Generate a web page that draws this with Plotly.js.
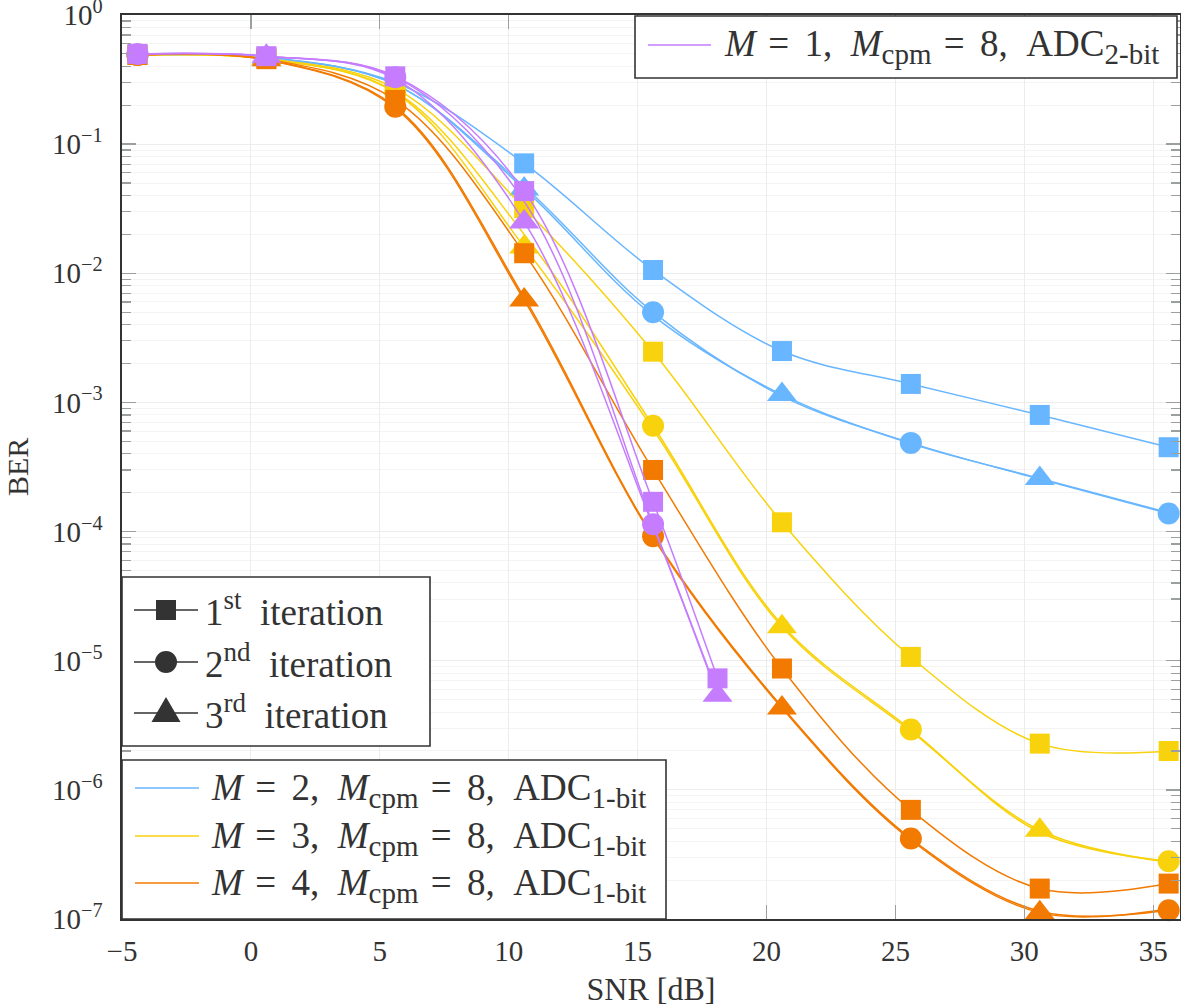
<!DOCTYPE html>
<html><head><meta charset="utf-8">
<script src="https://cdn.plot.ly/plotly-3.0.1.min.js"></script>
<style>body{margin:0;background:#fff}#chart{width:1181px;height:1007px}</style>
</head><body><div id="chart"></div>
<script>
// SNR grid (dB)
const snr = [-4.4, 0.6, 5.6, 10.6, 15.6, 20.6, 25.6, 30.6, 35.6];
const snrM1 = [-4.4, 0.6, 5.6, 10.6, 15.6, 18.1];

// M = 2, ADC 1-bit (blue)
const berM2It1 = [0.49, 0.47, 0.30, 0.071, 0.0106, 0.0025, 0.00139, 0.00080, 0.00045];
const berM2It2 = [0.49, 0.465, 0.29, 0.047, 0.0050, 0.00112, 0.000486, 0.000255, 0.000138];
const berM2It3 = [0.49, 0.465, 0.29, 0.045, 0.0047, 0.00115, 0.000480, 0.000258, 0.000140];
// M = 3, ADC 1-bit (yellow)
const berM3It1 = [0.49, 0.46, 0.27, 0.032, 0.00247, 0.000118, 1.07e-5, 2.28e-6, 2.0e-6];
const berM3It2 = [0.49, 0.455, 0.255, 0.020, 0.00066, 1.9e-5, 2.93e-6, 4.7e-7, 2.8e-7];
const berM3It3 = [0.49, 0.455, 0.25, 0.016, 0.00062, 1.83e-5, 2.85e-6, 4.87e-7, 2.75e-7];
// M = 4, ADC 1-bit (orange)
const berM4It1 = [0.49, 0.455, 0.22, 0.0143, 0.00030, 8.7e-6, 7.0e-7, 1.72e-7, 1.88e-7];
const berM4It2 = [0.49, 0.45, 0.195, 0.0065, 9.2e-5, 4.4e-6, 4.2e-7, 1.15e-7, 1.17e-7];
const berM4It3 = [0.49, 0.45, 0.19, 0.0062, 9.0e-5, 4.3e-6, 4.1e-7, 1.12e-7, 1.2e-7];
// M = 1, ADC 2-bit (purple)
const berM1It1 = [0.5, 0.48, 0.335, 0.0433, 0.00017, 7.3e-6];
const berM1It2 = [0.5, 0.48, 0.33, 0.036, 0.000114, 5.6e-6];
const berM1It3 = [0.5, 0.48, 0.32, 0.025, 0.000110, 5.4e-6];

const xTickVals = [-5, 0, 5, 10, 15, 20, 25, 30, 35];
const xTickText = ['\u22125', '0', '5', '10', '15', '20', '25', '30', '35'];
const yTickVals = [1e-7, 1e-6, 1e-5, 1e-4, 1e-3, 1e-2, 1e-1, 1];
const yTickText = ['10<sup>\u22127</sup>','10<sup>\u22126</sup>','10<sup>\u22125</sup>','10<sup>\u22124</sup>','10<sup>\u22123</sup>','10<sup>\u22122</sup>','10<sup>\u22121</sup>','10<sup>0</sup>'];

const iterNames = ['1st iteration', '2nd iteration', '3rd iteration'];
const EN = '\u2002', THL = '\u2004', THR = '\u2004\u200A';
function cfgLabel(m, bits) {
  return '<i>M</i>' + THL + '=' + THR + m + ',' + EN + '<i>M</i><sub><span style="font-size:29px">cpm</span></sub>' +
    THL + '=' + THR + '8,' + EN + 'ADC<sub><span style="font-size:29px">' + bits + '-bit</span></sub>';
}
const configLabels = [cfgLabel(2, 1), cfgLabel(3, 1), cfgLabel(4, 1), cfgLabel(1, 2)];

const BLUE = '#68b6ff', YELLOW = '#f8d20c', ORANGE = '#f27a00', PURPLE = '#c57cff';
const SYMBOLS = ['square', 'circle', 'triangle-up'];
const MSIZE = [20, 22, 26];

const groups = [
  {x: snr, ys: [berM2It1, berM2It2, berM2It3], color: BLUE},
  {x: snr, ys: [berM3It1, berM3It2, berM3It3], color: YELLOW},
  {x: snr, ys: [berM4It1, berM4It2, berM4It3], color: ORANGE},
  {x: snrM1, ys: [berM1It1, berM1It2, berM1It3], color: PURPLE}
];

const traces = [];
groups.forEach(g => {
  g.ys.forEach((y, it) => {
    // square on every point, circle on even points, triangle on odd points
    const sizes = g.x.map((_, i) => it === 0 ? MSIZE[0] : (it === 1 ? (i % 2 === 0 ? MSIZE[1] : 0) : (i % 2 === 1 ? MSIZE[2] : 0)));
    traces.push({
      type: 'scatter', mode: 'lines+markers', x: g.x, y: y,
      name: iterNames[it], showlegend: false, cliponaxis: false,
      line: {color: g.color, width: 1.5, shape: 'spline', smoothing: 1},
      marker: {symbol: SYMBOLS[it], size: sizes, color: g.color, opacity: 1, line: {width: 0}}
    });
  });
});

// plot area in pixels
const L = 122, R = 1180, T = 15, B = 919;
const px = v => (v - L) / (R - L);
const py = v => (B - v) / (B - T);
const DARK = '#333333';
const FONT = 'Liberation Serif, serif';
const shapes = [], annotations = [];
function box(x0, y0, x1, y1) {
  shapes.push({type: 'rect', xref: 'paper', yref: 'paper', x0: px(x0), x1: px(x1), y0: py(y1), y1: py(y0),
    line: {color: DARK, width: 1.6}, fillcolor: 'white', layer: 'above'});
}
function seg(x0, x1, y, color, w) {
  shapes.push({type: 'line', xref: 'paper', yref: 'paper', x0: px(x0), x1: px(x1), y0: py(y), y1: py(y),
    line: {color: color, width: w}, layer: 'above'});
}
function label(x, y, text, size) {
  annotations.push({xref: 'paper', yref: 'paper', x: px(x), y: py(y), xanchor: 'left', yanchor: 'middle',
    text: text, showarrow: false, font: {family: FONT, size: size, color: DARK}});
}

// top-right legend (M = 1)
box(635, 16, 1177, 78);
seg(648, 711, 45, PURPLE, 1.5);
label(722, 46, configLabels[3], 37);

// iteration legend
box(122, 577, 430, 746);
const iterY = [610, 662, 713];
const sup = s => '<sup><span style="font-size:27px">' + s + '</span></sup>';
const iterText = ['1' + sup('st') + EN + 'iteration', '2' + sup('nd') + EN + 'iteration', '3' + sup('rd') + EN + 'iteration'];
iterY.forEach((y, k) => {
  seg(134, 198, y, DARK, 1.4);
  label(203, y - 1, iterText[k], 37);
});
shapes.push({type: 'rect', xref: 'paper', yref: 'paper', x0: px(156), x1: px(176), y0: py(620), y1: py(600),
  line: {width: 0}, fillcolor: DARK, layer: 'above'});
shapes.push({type: 'circle', xref: 'paper', yref: 'paper', x0: px(155), x1: px(177), y0: py(673), y1: py(651),
  line: {width: 0}, fillcolor: DARK, layer: 'above'});
shapes.push({type: 'path', xref: 'paper', yref: 'paper',
  path: `M ${px(151.5)} ${py(722)} L ${px(180.5)} ${py(722)} L ${px(166)} ${py(697)} Z`,
  line: {width: 0}, fillcolor: DARK, layer: 'above'});

// configuration legend
box(122, 760, 666, 919);
const cfgY = [788, 836, 883];
[BLUE, YELLOW, ORANGE].forEach((c, k) => {
  seg(135, 199, cfgY[k], c, 1.5);
  label(209, cfgY[k] + 2, configLabels[k], 37);
});

// y-axis title placed at the reference's far-left position
annotations.push({xref: 'paper', yref: 'paper', x: px(17), y: py(467), xanchor: 'center', yanchor: 'middle',
  text: 'BER', textangle: -90, showarrow: false, font: {family: FONT, size: 30, color: DARK}});

const minorVals = [];
for (let e = -7; e < 0; e++) for (let m = 2; m <= 9; m++) minorVals.push(m * Math.pow(10, e));

const layout = {
  width: 1181, height: 1007,
  margin: {l: L, r: 1181 - R, t: T, b: 1007 - B},
  paper_bgcolor: 'white', plot_bgcolor: 'white',
  font: {family: FONT, color: DARK, size: 28},
  showlegend: false,
  xaxis: {
    range: [-5, 36.04], tickmode: 'array', tickvals: xTickVals, ticktext: xTickText,
    ticks: 'inside', ticklen: 14, tickwidth: 1.3, tickcolor: '#9aa0a0',
    showline: true, linecolor: DARK, linewidth: 1.6, mirror: 'allticks',
    showgrid: true, gridcolor: '#ececec', gridwidth: 1, zeroline: false,
    tickfont: {size: 29, color: DARK}, ticklabelstandoff: 6, ticklabeloverflow: 'allow',
    title: {text: 'SNR [dB]', font: {size: 32, color: DARK}, standoff: 18}
  },
  yaxis: {
    type: 'log', range: [-7, 0], tickmode: 'array', tickvals: yTickVals, ticktext: yTickText,
    ticks: 'inside', ticklen: 14, tickwidth: 1.3, tickcolor: '#9aa0a0',
    showline: true, linecolor: DARK, linewidth: 1.6, mirror: 'allticks',
    showgrid: true, gridcolor: '#ececec', gridwidth: 1, zeroline: false,
    tickfont: {size: 29, color: DARK}, ticklabelstandoff: 12, ticklabeloverflow: 'allow',
    minor: {tickmode: 'array', tickvals: minorVals, ticks: 'inside', ticklen: 9, tickwidth: 1.2,
            tickcolor: '#9aa0a0', showgrid: true, gridcolor: '#f4f4f4', gridwidth: 1}
  },
  shapes: shapes,
  annotations: annotations
};

Plotly.newPlot('chart', traces, layout, {displayModeBar: false, staticPlot: true});
</script>
</body></html>
